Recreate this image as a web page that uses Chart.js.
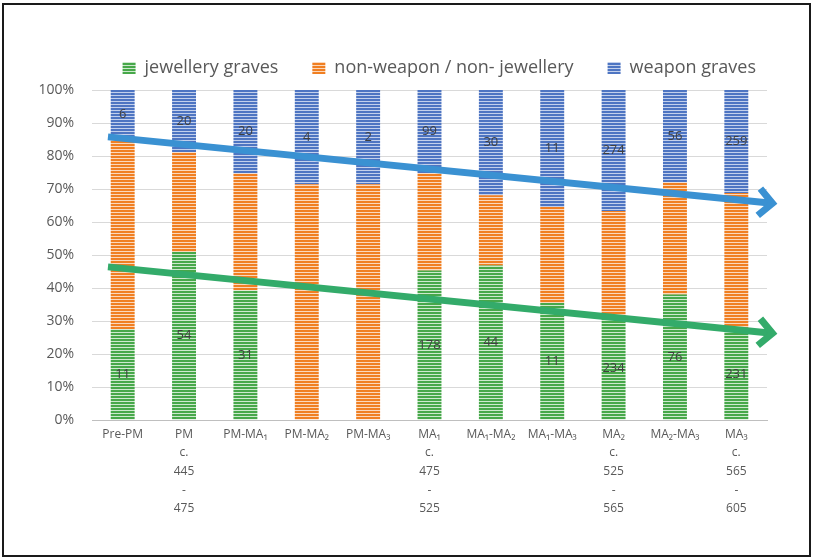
<!DOCTYPE html>
<html>
<head>
<meta charset="utf-8">
<script src="https://cdn.jsdelivr.net/npm/chart.js@4"></script>
<style>
  html, body { margin: 0; padding: 0; background: #fff; }
  #wrap { position: relative; width: 814px; height: 558px; }
  #c { position: absolute; left: 0; top: 0; }
  #frame { position: absolute; left: 2px; top: 3px; width: 805px; height: 550px; border: 2px solid #1a1a1a; pointer-events: none; }
</style>
</head>
<body>
<div id="wrap">
  <canvas id="c" width="814" height="558"></canvas>
  <div id="frame"></div>
</div>
<script>
// ---- data ----
const categories = [
  ['Pre-PM'],
  ['PM', 'c.', '445', '-', '475'],
  ['PM-MA₁'],
  ['PM-MA₂'],
  ['PM-MA₃'],
  ['MA₁', 'c.', '475', '-', '525'],
  ['MA₁-MA₂'],
  ['MA₁-MA₃'],
  ['MA₂', 'c.', '525', '-', '565'],
  ['MA₂-MA₃'],
  ['MA₃', 'c.', '565', '-', '605']
];
const seriesNames = ['jewellery graves', 'non-weapon / non- jewellery', 'weapon graves'];
const jewellery = [11, 54, 31, 0, 0, 178, 44, 11, 234, 76, 231];
const other     = [23, 32, 28, 10, 5, 116, 20, 9, 240, 68, 340];
const weapon    = [6, 20, 20, 4, 2, 99, 30, 11, 274, 56, 259];
const yTicks = [0, 10, 20, 30, 40, 50, 60, 70, 80, 90, 100];
// trend arrows: [start, end] in category index / percent
const trendX = [-0.24, 10.67];
const weaponTrend = [85.8, 65.5];
const jewelleryTrend = [46.4, 26.1];

const totals = jewellery.map((v, i) => v + other[i] + weapon[i]);
const pct = arr => arr.map((v, i) => v / totals[i] * 100);

function makePattern(color, light) {
  const c = document.createElement('canvas');
  c.width = 4; c.height = 3;
  const g = c.getContext('2d');
  g.fillStyle = light; g.fillRect(0, 0, 4, 3);
  g.fillStyle = color; g.fillRect(0, 0, 4, 2);
  return document.getElementById('c').getContext('2d').createPattern(c, 'repeat');
}
const greenP = makePattern('#47A84A', '#CDE9CE');
const orangeP = makePattern('#F07F22', '#FBD8BC');
const blueP = makePattern('#4E75C2', '#C3D0EC');

const legendSpace = {
  id: 'legendSpace',
  beforeLayout(chart) {
    const lg = chart.legend;
    if (lg && !lg._wrapped) {
      const f = lg.fit.bind(lg);
      lg.fit = function () { f(); this.height += 3; };
      lg._wrapped = true;
    }
  },
  afterLayout(chart) {
    const lg = chart.legend;
    if (lg) { lg.left += 23; lg.right += 23; }
  }
};

const labelPlugin = {
  id: 'segLabels',
  afterDatasetsDraw(chart) {
    const ctx = chart.ctx;
    ctx.save();
    ctx.font = '13px "Open Sans"';
    ctx.fillStyle = '#404040';
    ctx.textAlign = 'center';
    ctx.textBaseline = 'middle';
    const srcs = { 0: jewellery, 2: weapon };
    Object.keys(srcs).forEach(di => {
      const meta = chart.getDatasetMeta(+di);
      meta.data.forEach((el, i) => {
        const v = srcs[di][i];
        if (!v) return;
        ctx.fillText(String(v), el.x, (el.y + el.base) / 2);
      });
    });
    ctx.restore();
  }
};

const arrowPlugin = {
  id: 'trendArrows',
  afterDatasetsDraw(chart) {
    const ctx = chart.ctx;
    const xs = chart.scales.x, ys = chart.scales.y;
    const draw = (vals, color) => {
      const x0 = xs.getPixelForValue(trendX[0]), x1 = xs.getPixelForValue(trendX[1]);
      const y0 = ys.getPixelForValue(vals[0]), y1 = ys.getPixelForValue(vals[1]);
      const ang = Math.atan2(y1 - y0, x1 - x0);
      const back = 5;
      const tx = x1 - back * Math.cos(ang), ty = y1 - back * Math.sin(ang);
      ctx.save();
      ctx.strokeStyle = color;
      ctx.lineWidth = 7;
      ctx.lineCap = 'butt';
      ctx.lineJoin = 'miter';
      ctx.beginPath();
      ctx.moveTo(x0, y0);
      ctx.lineTo(tx - 3 * Math.cos(ang), ty - 3 * Math.sin(ang));
      ctx.stroke();
      const L = 19, a = Math.PI * 0.75;
      ctx.beginPath();
      ctx.moveTo(tx + L * Math.cos(ang + a), ty + L * Math.sin(ang + a));
      ctx.lineTo(tx, ty);
      ctx.lineTo(tx + L * Math.cos(ang - a), ty + L * Math.sin(ang - a));
      ctx.stroke();
      ctx.restore();
    };
    draw(weaponTrend, '#3A91D2');
    draw(jewelleryTrend, '#33AB6A');
  }
};

new Chart(document.getElementById('c'), {
  type: 'bar',
  data: {
    labels: categories,
    datasets: [
      { label: seriesNames[0], data: pct(jewellery), backgroundColor: greenP },
      { label: seriesNames[1], data: pct(other), backgroundColor: orangeP },
      { label: seriesNames[2], data: pct(weapon), backgroundColor: blueP }
    ]
  },
  options: {
    responsive: false,
    animation: false,
    layout: { padding: { left: 20, right: 47, top: 25, bottom: 30 } },
    datasets: { bar: { categoryPercentage: 1, barPercentage: 0.39 } },
    plugins: {
      legend: {
        position: 'top',
        align: 'end',
        labels: {
          boxWidth: 13, boxHeight: 12, padding: 34,
          color: '#595959',
          font: { family: '"Open Sans"', size: 18 }
        }
      },
      tooltip: { enabled: false }
    },
    scales: {
      x: {
        stacked: true,
        grid: { display: false, drawTicks: false },
        border: { color: '#BFBFBF', width: 1 },
        ticks: {
          color: '#595959', padding: 5, maxRotation: 0, autoSkip: false,
          font: { family: '"Open Sans"', size: 12, lineHeight: 1.55 }
        },
        afterFit(s) { s.height = 108; }
      },
      y: {
        stacked: true, min: 0, max: 100,
        afterBuildTicks(s) { s.ticks = yTicks.map(v => ({ value: v })); },
        grid: { color: '#D9D9D9', drawTicks: false },
        border: { display: false },
        ticks: {
          color: '#595959', padding: 18,
          font: { family: '"Open Sans"', size: 14 },
          callback: v => v + '%'
        },
        afterFit(s) { s.width = 72; }
      }
    }
  },
  plugins: [legendSpace, labelPlugin, arrowPlugin]
});
</script>
</body>
</html>
